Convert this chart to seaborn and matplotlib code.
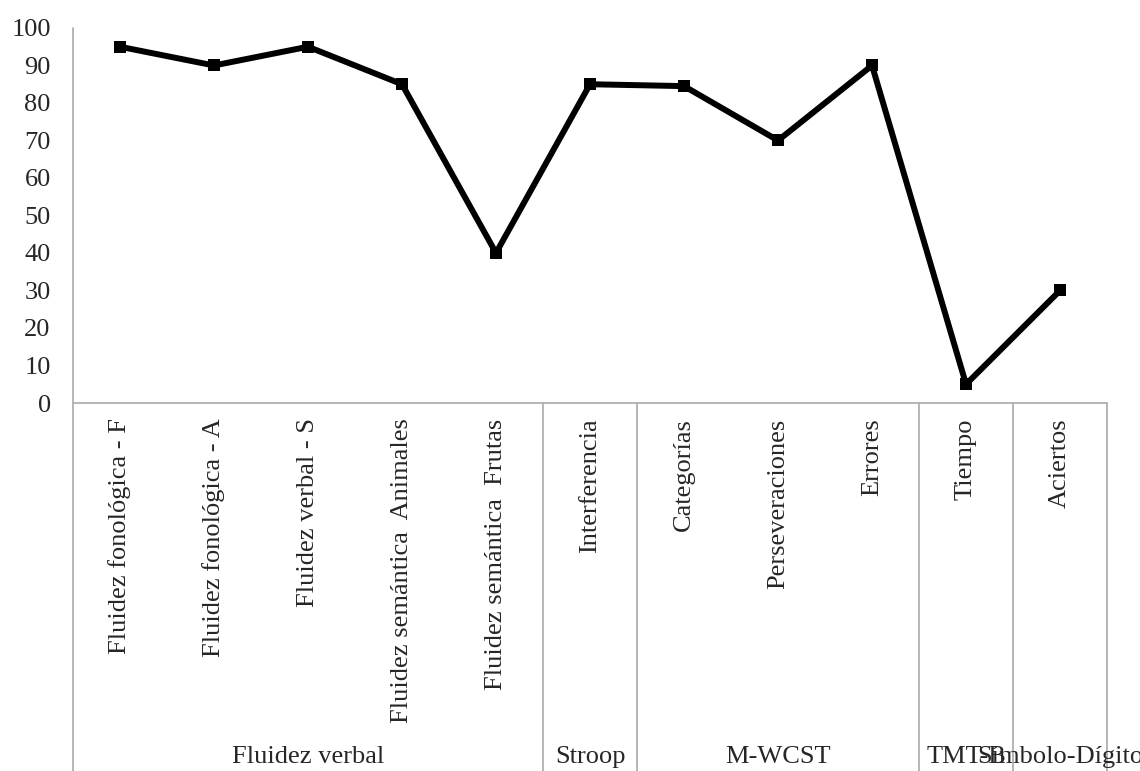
import matplotlib
matplotlib.use("Agg")
import matplotlib.pyplot as plt
import matplotlib.transforms as mtransforms
import numpy as np
import pandas as pd
import seaborn as sns

# Test scores (percentile) per measure
measures = [
    "Fluidez fonológica - F",
    "Fluidez fonológica - A",
    "Fluidez verbal - S",
    "Fluidez semántica  Animales",
    "Fluidez semántica  Frutas",
    "Interferencia",
    "Categorías",
    "Perseveraciones",
    "Errores",
    "Tiempo",
    "Aciertos",
]
scores = [95, 90, 95, 85, 40, 85, 84.5, 70, 90, 5, 30]

# Test batteries grouping the measures
groups = ["Fluidez verbal", "Stroop", "M-WCST", "TMT-B", "Símbolo-Dígito"]
group_sizes = [5, 1, 3, 1, 1]

sns.set_theme(style="white")
plt.rcParams["font.family"] = ["Liberation Serif", "DejaVu Serif"]

FS = 19
GRID = "#b0b0b0"

fig = plt.figure(figsize=(11.4, 7.71), dpi=100)
ax = fig.add_axes([0.064, 0.4773, 0.9071, 0.4864])

df = pd.DataFrame({"pos": np.arange(len(measures)), "score": scores})
sns.lineplot(
    data=df, x="pos", y="score", ax=ax, color="black", linewidth=4.3,
    marker="s", markersize=9, markeredgewidth=0, markerfacecolor="black",
)

ax.set_xlim(-0.5, len(measures) - 0.5)
ax.set_ylim(0, 100)
ax.set_yticks(range(0, 101, 10))
ax.set_xticks(range(len(measures)))
ax.set_xticklabels(measures, rotation=90, va="top", ha="center", fontsize=FS)
ax.tick_params(axis="x", length=0, pad=11)
ax.tick_params(axis="y", length=0, pad=16, labelsize=FS)
ax.set_xlabel("")
ax.set_ylabel("")
for s in ax.spines.values():
    s.set_visible(False)

# Axis lines and the multi-level category frame
bottom = -0.981
ax.plot([0, 0], [1, bottom], transform=ax.transAxes, color=GRID, lw=1.3, clip_on=False)
ax.plot([0, 1], [0, 0], transform=ax.transAxes, color=GRID, lw=1.3, clip_on=False)

trans = mtransforms.blended_transform_factory(ax.transData, ax.transAxes)
edges = np.concatenate([[0], np.cumsum(group_sizes)]) - 0.5
for e in edges[1:]:
    ax.plot([e, e], [0, bottom], transform=trans, color=GRID, lw=1.3, clip_on=False)

for name, lo, hi in zip(groups, edges[:-1], edges[1:]):
    ax.text((lo + hi) / 2, -0.944, name, transform=trans, ha="center",
            va="center", fontsize=FS, clip_on=False)

fig.savefig("out.png", dpi=100)
